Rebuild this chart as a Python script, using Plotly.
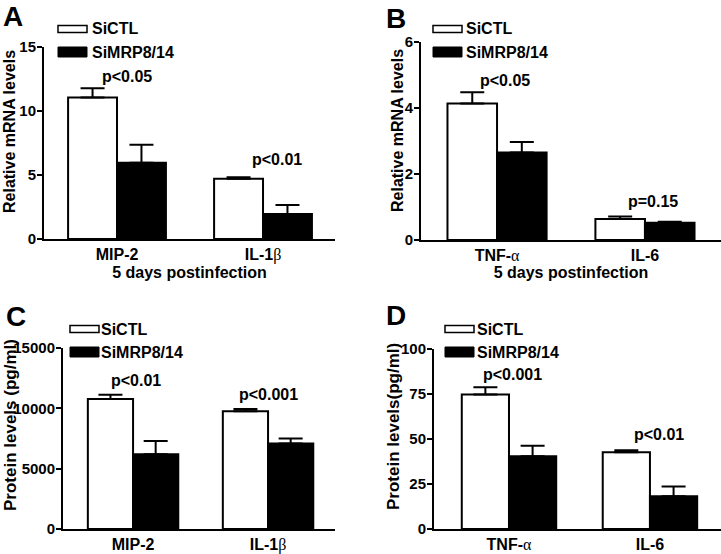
import plotly.graph_objects as go

W, H = 721, 554

# ---------------- data ----------------
series_names = ["SiCTL", "SiMRP8/14"]

a_categories = ["MIP-2", "IL-1β"]
a_tick_labels = ["MIP-2", "IL-1<span style='font-family:Liberation Serif;font-weight:normal'>β</span>"]
a_sictl = [11.05, 4.71]
a_sictl_err = [0.72, 0.11]
a_simrp = [5.96, 1.95]
a_simrp_err = [1.41, 0.71]
a_pvalues = ["p<0.05", "p<0.01"]
a_yticks = [0, 5, 10, 15]

b_categories = ["TNF-α", "IL-6"]
b_tick_labels = ["TNF-<span style='font-family:Liberation Serif;font-weight:normal'>α</span>", "IL-6"]
b_sictl = [4.14, 0.635]
b_sictl_err = [0.34, 0.075]
b_simrp = [2.65, 0.52]
b_simrp_err = [0.32, 0.03]
b_pvalues = ["p<0.05", "p=0.15"]
b_yticks = [0, 2, 4, 6]

c_categories = ["MIP-2", "IL-1β"]
c_tick_labels = a_tick_labels
c_sictl = [10780, 9760]
c_sictl_err = [350, 190]
c_simrp = [6200, 7080]
c_simrp_err = [1100, 420]
c_pvalues = ["p<0.01", "p<0.001"]
c_yticks = [0, 5000, 10000, 15000]

d_categories = ["TNF-α", "IL-6"]
d_tick_labels = b_tick_labels
d_sictl = [74.7, 42.6]
d_sictl_err = [4.0, 1.1]
d_simrp = [40.4, 18.2]
d_simrp_err = [5.9, 5.4]
d_pvalues = ["p<0.001", "p<0.01"]
d_yticks = [0, 25, 50, 75, 100]

# ---------------- layout config (pixels) ----------------
FONT = "Liberation Sans, Arial, sans-serif"


def fx(x):
    return x / W


def fy(y):
    return 1 - y / H


panels = [
    dict(letter="A", cats=a_categories, ticklabels=a_tick_labels, ctl=a_sictl, ctl_err=a_sictl_err,
         mrp=a_simrp, mrp_err=a_simrp_err, pv=a_pvalues, yticks=a_yticks,
         ytitle="Relative mRNA levels", xtitle="5 days postinfection",
         xpx=(44, 335), ypx=(47, 239), xrange=[-0.5, 1.493],
         letter_pos=(13, 17), ytitle_pos=(9, 132), pv_pos=[(127, 77), (277, 159)],
         leg_x=58, leg_y=(29, 52), leg_tx=90),
    dict(letter="B", cats=b_categories, ticklabels=b_tick_labels, ctl=b_sictl, ctl_err=b_sictl_err,
         mrp=b_simrp, mrp_err=b_simrp_err, pv=b_pvalues, yticks=b_yticks,
         ytitle="Relative mRNA levels", xtitle="5 days postinfection",
         xpx=(421, 721), ypx=(42, 240), xrange=[-0.514, 1.514],
         letter_pos=(396, 18), ytitle_pos=(397, 131), pv_pos=[(505, 80), (653, 201)],
         leg_x=433, leg_y=(29, 52), leg_tx=464),
    dict(letter="C", cats=c_categories, ticklabels=c_tick_labels, ctl=c_sictl, ctl_err=c_sictl_err,
         mrp=c_simrp, mrp_err=c_simrp_err, pv=c_pvalues, yticks=c_yticks,
         ytitle="Protein levels (pg/ml)", xtitle=None,
         xpx=(63, 335), ypx=(348, 529), xrange=[-0.519, 1.496],
         letter_pos=(16, 316), ytitle_pos=(10, 425), pv_pos=[(136, 380), (268, 394)],
         leg_x=70, leg_y=(329, 352), leg_tx=99),
    dict(letter="D", cats=d_categories, ticklabels=d_tick_labels, ctl=d_sictl, ctl_err=d_sictl_err,
         mrp=d_simrp, mrp_err=d_simrp_err, pv=d_pvalues, yticks=d_yticks,
         ytitle="Protein levels(pg/ml)", xtitle=None,
         xpx=(434, 721), ypx=(349, 529), xrange=[-0.532, 1.504],
         letter_pos=(396, 315), ytitle_pos=(393, 427), pv_pos=[(512, 374), (659, 435)],
         leg_x=445, leg_y=(329, 352), leg_tx=475),
]

fig = go.Figure()
annotations = []
shapes = []
layout = {}

for i, p in enumerate(panels):
    n = "" if i == 0 else str(i + 1)
    xa, ya = "x" + n, "y" + n
    fig.add_trace(go.Bar(
        x=p["cats"], y=p["ctl"], name=series_names[0], xaxis=xa, yaxis=ya,
        marker=dict(color="white", line=dict(color="black", width=2)),
        error_y=dict(type="data", array=p["ctl_err"], arrayminus=[0] * len(p["ctl"]),
                     symmetric=False, color="black", thickness=2, width=12),
        showlegend=False))
    fig.add_trace(go.Bar(
        x=p["cats"], y=p["mrp"], name=series_names[1], xaxis=xa, yaxis=ya,
        marker=dict(color="black", line=dict(color="black", width=2)),
        error_y=dict(type="data", array=p["mrp_err"], arrayminus=[0] * len(p["mrp"]),
                     symmetric=False, color="black", thickness=2, width=12),
        showlegend=False))

    xaxis = dict(domain=[fx(p["xpx"][0]), fx(p["xpx"][1])], anchor=ya, range=p["xrange"],
                 type="category", showline=True, linecolor="black", linewidth=2,
                 ticks="", tickmode="array", tickvals=p["cats"],
                 ticktext=["<b>" + t + "</b>" for t in p["ticklabels"]],
                 tickfont=dict(family=FONT, size=16, color="black"),
                 showgrid=False, zeroline=False, fixedrange=True, automargin=False)
    if p["xtitle"]:
        xaxis["title"] = dict(text="<b>" + p["xtitle"] + "</b>", standoff=4,
                              font=dict(family=FONT, size=16, color="black"))
    yaxis = dict(domain=[fy(p["ypx"][1]), fy(p["ypx"][0])], anchor=xa,
                 range=[0, p["yticks"][-1]], tickmode="array", tickvals=p["yticks"],
                 ticktext=["<b>" + str(v) + "</b>" for v in p["yticks"]],
                 showline=True, linecolor="black", linewidth=2, ticks="outside",
                 ticklen=5, tickwidth=2, tickcolor="black", ticklabelstandoff=-2,
                 tickfont=dict(family=FONT, size=15, color="black"),
                 showgrid=False, zeroline=False, fixedrange=True, automargin=False)
    layout["xaxis" + n] = xaxis
    layout["yaxis" + n] = yaxis

    # panel letter
    annotations.append(dict(text="<b>" + p["letter"] + "</b>", x=fx(p["letter_pos"][0]),
                            y=fy(p["letter_pos"][1]),
                            xref="paper", yref="paper", showarrow=False, xanchor="center", yanchor="middle",
                            font=dict(family=FONT, size=28, color="black")))
    # y title
    annotations.append(dict(text="<b>" + p["ytitle"] + "</b>", x=fx(p["ytitle_pos"][0]),
                            y=fy(p["ytitle_pos"][1]),
                            xref="paper", yref="paper", showarrow=False, textangle=-90,
                            xanchor="center", yanchor="middle",
                            font=dict(family=FONT, size=17 if "Protein" in p["ytitle"] else 16,
                                      color="black")))
    # p values
    for txt, (px_, py_) in zip(p["pv"], p["pv_pos"]):
        annotations.append(dict(text="<b>" + txt.replace("<", "&lt;") + "</b>", x=fx(px_), y=fy(py_),
                                xref="paper", yref="paper",
                                showarrow=False, xanchor="center", yanchor="middle",
                                font=dict(family=FONT, size=16, color="black")))
    # legend
    lx = p["leg_x"]
    y1, y2 = p["leg_y"]
    shapes.append(dict(type="rect", xref="paper", yref="paper", x0=fx(lx), x1=fx(lx + 29),
                       y0=fy(y1 + 3.5), y1=fy(y1 - 3.5), fillcolor="white",
                       line=dict(color="black", width=1.5)))
    shapes.append(dict(type="rect", xref="paper", yref="paper", x0=fx(lx), x1=fx(lx + 29),
                       y0=fy(y2 + 5), y1=fy(y2 - 5), fillcolor="black",
                       line=dict(color="black", width=1)))
    for txt, yy in zip(series_names, (y1, y2)):
        annotations.append(dict(text="<b>" + txt + "</b>", x=fx(p["leg_tx"]), y=fy(yy),
                                xref="paper", yref="paper",
                                showarrow=False, xanchor="left", yanchor="middle",
                                font=dict(family=FONT, size=16, color="black")))

fig.update_layout(**layout)
fig.update_layout(
    width=W, height=H, autosize=False,
    margin=dict(l=0, r=0, t=0, b=0, pad=0),
    paper_bgcolor="white", plot_bgcolor="white",
    barmode="group", bargap=0.33, bargroupgap=0,
    font=dict(family=FONT, color="black"),
    annotations=annotations, shapes=shapes,
    showlegend=False,
)

fig.write_html("out.html", config={"displayModeBar": False, "staticPlot": True},
               post_script="document.body.style.margin='0';document.body.style.overflow='hidden';")
